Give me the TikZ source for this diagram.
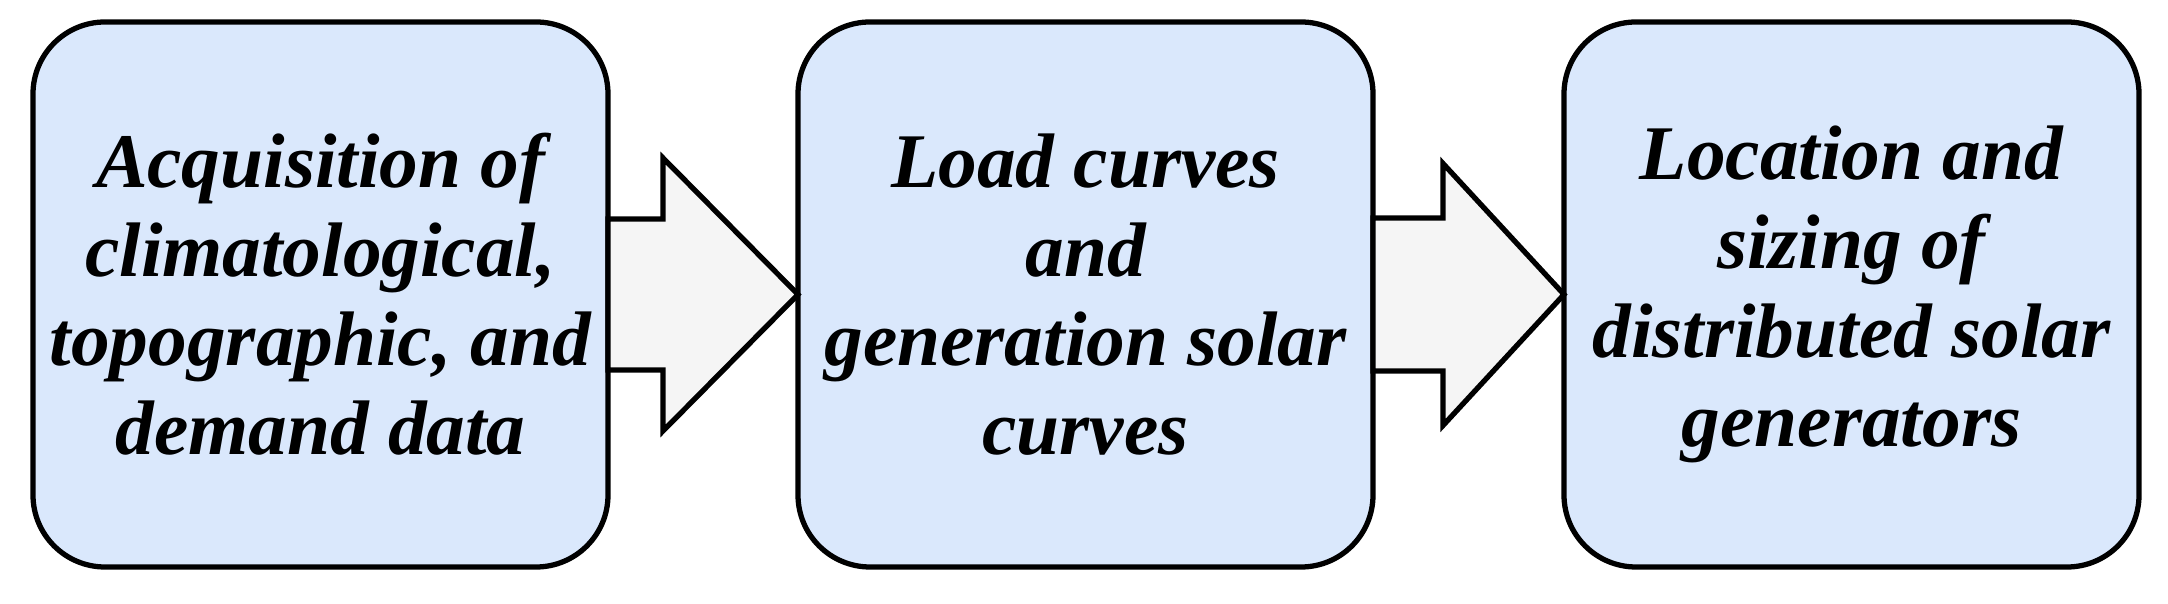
\documentclass[tikz,border=0pt]{standalone}
\usepackage{fontspec}
\setmainfont{Liberation Serif}
\usetikzlibrary{positioning}
\definecolor{stagefill}{HTML}{DAE8FC}
\definecolor{arrowfill}{HTML}{F5F5F5}
\tikzset{
  stage/.style={draw=black, line width=1.5pt, fill=stagefill, rounded corners=0.72cm,
    minimum width=5.75cm, minimum height=5.45cm, outer sep=0pt, align=center,
    font=\fontsize{22}{25.3}\selectfont\bfseries\itshape},
  blockarrow/.style={draw=black, line width=1.5pt, fill=arrowfill, line join=miter}
}
\begin{document}
\begin{tikzpicture}
    \useasboundingbox (0,0) rectangle (21.68,6.04);
    \node[stage] (acq) at (3.205,3.095) {Acquisition of\\climatological,\\topographic, and\\demand data};
    \node[stage, right=1.9cm of acq] (load) {Load curves\\and\\generation solar\\curves};
    \node[stage, right=1.91cm of load] (loc) {Location and\\sizing of\\distributed solar\\generators};
    % block arrows between the stages
    \draw[blockarrow] ([yshift=0.755cm]acq.east) -- ([xshift=0.55cm,yshift=0.755cm]acq.east)
      -- ([xshift=0.55cm,yshift=1.365cm]acq.east) -- (load.west)
      -- ([xshift=0.55cm,yshift=-1.365cm]acq.east) -- ([xshift=0.55cm,yshift=-0.755cm]acq.east)
      -- ([yshift=-0.755cm]acq.east) -- cycle;
    \draw[blockarrow] ([yshift=0.765cm]load.east) -- ([xshift=0.7cm,yshift=0.765cm]load.east)
      -- ([xshift=0.7cm,yshift=1.31cm]load.east) -- (loc.west)
      -- ([xshift=0.7cm,yshift=-1.31cm]load.east) -- ([xshift=0.7cm,yshift=-0.765cm]load.east)
      -- ([yshift=-0.765cm]load.east) -- cycle;
\end{tikzpicture}
\end{document}
